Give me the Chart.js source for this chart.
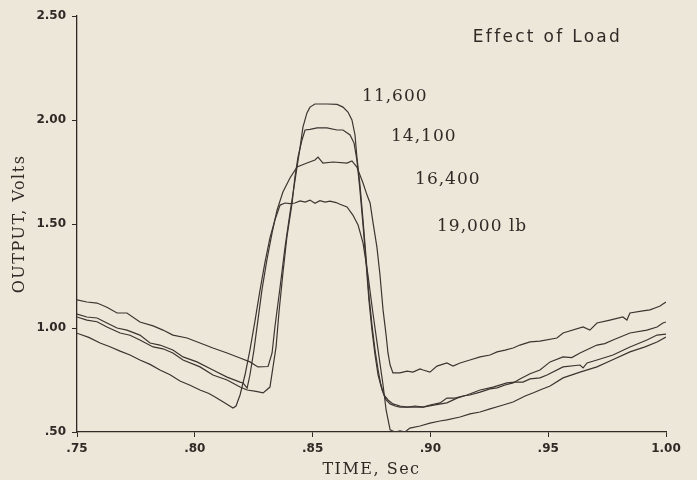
<!DOCTYPE html>
<html>
<head>
<meta charset="utf-8">
<title>Effect of Load</title>
<script src="https://cdn.jsdelivr.net/npm/chart.js@4.4.0/dist/chart.umd.min.js"></script>
<style>
    html, body { margin: 0; padding: 0; background: #ece7d9; }
    #wrap { width: 697px; height: 480px; }
</style>
</head>
<body>
<div id="wrap"><canvas id="loadChart" width="697" height="480"></canvas></div>
<script>
// output trace for each wheel load: time (s) and volts
const t11600 = [.7500, .7542, .7585, .7627, .7670, .7712, .7767, .7823, .7865, .7907, .7967, .8022, .8077, .8137, .8192, .8234, .8268, .8311, .8328, .8340, .8362, .8383, .8404, .8421, .8434, .8447, .8459, .8476, .8489, .8510, .8561, .8604, .8629, .8650, .8667, .8680, .8688, .8701, .8714, .8727, .8739, .8752, .8765, .8778, .8790, .8803, .8820, .8841, .8871, .8901, .8935, .8969, .8998, .9041, .9070, .9104, .9138, .9168, .9211, .9253, .9283, .9317, .9351, .9380, .9423, .9465, .9508, .9563, .9600, .9635, .9707, .9740, .9775, .9847, .9919, .9962, .9987, 1.0000];
const v11600 = [1.135, 1.125, 1.120, 1.100, 1.072, 1.072, 1.029, 1.010, .990, .966, .952, .928, .904, .880, .856, .837, .813, .815, .880, 1.005, 1.197, 1.389, 1.553, 1.678, 1.774, 1.870, 1.966, 2.034, 2.062, 2.077, 2.077, 2.075, 2.062, 2.038, 2.000, 1.928, 1.822, 1.688, 1.519, 1.337, 1.159, 1.014, .894, .798, .726, .678, .654, .635, .625, .620, .625, .620, .630, .640, .663, .663, .673, .678, .692, .707, .712, .726, .736, .755, .780, .798, .837, .861, .858, .880, .918, .925, .942, .976, .990, 1.005, 1.024, 1.029];

const t14100 = [.7500, .7542, .7585, .7627, .7683, .7725, .7767, .7823, .7865, .7907, .7950, .8022, .8077, .8137, .8192, .8222, .8260, .8290, .8319, .8332, .8345, .8357, .8374, .8391, .8413, .8425, .8438, .8455, .8468, .8489, .8519, .8561, .8604, .8629, .8659, .8676, .8688, .8701, .8714, .8727, .8739, .8752, .8765, .8778, .8795, .8812, .8829, .8850, .8871, .8913, .8969, .9020, .9070, .9113, .9155, .9211, .9266, .9325, .9359, .9393, .9423, .9465, .9495, .9563, .9635, .9648, .9665, .9707, .9775, .9847, .9919, .9962, 1.0000];
const v14100 = [1.053, 1.038, 1.030, 1.005, .976, .965, .942, .909, .900, .880, .846, .813, .774, .750, .716, .702, .695, .688, .716, .813, .909, 1.072, 1.264, 1.438, 1.601, 1.726, 1.822, 1.904, 1.952, 1.955, 1.962, 1.962, 1.952, 1.952, 1.928, 1.889, 1.808, 1.663, 1.495, 1.313, 1.135, .990, .870, .774, .702, .654, .635, .625, .620, .620, .620, .630, .640, .663, .678, .702, .716, .736, .740, .740, .755, .760, .774, .813, .822, .808, .832, .846, .870, .909, .942, .966, .971];

const t16400 = [.7500, .7542, .7585, .7627, .7670, .7712, .7767, .7810, .7852, .7907, .7950, .8009, .8077, .8137, .8192, .8205, .8222, .8234, .8251, .8268, .8285, .8306, .8328, .8349, .8374, .8404, .8434, .8476, .8510, .8523, .8544, .8587, .8646, .8667, .8688, .8714, .8731, .8744, .8756, .8773, .8786, .8799, .8812, .8820, .8829, .8841, .8871, .8901, .8926, .8956, .8969, .8998, .9028, .9070, .9096, .9126, .9168, .9211, .9253, .9283, .9317, .9351, .9380, .9423, .9465, .9537, .9563, .9648, .9677, .9707, .9762, .9817, .9834, .9847, .9902, .9932, .9953, .9975, .9987, 1.0000];
const v16400 = [1.067, 1.053, 1.048, 1.024, 1.000, .990, .966, .928, .918, .894, .861, .837, .798, .764, .740, .736, .711, .774, .894, 1.038, 1.183, 1.327, 1.457, 1.567, 1.654, 1.721, 1.774, 1.793, 1.808, 1.822, 1.793, 1.798, 1.793, 1.803, 1.774, 1.697, 1.639, 1.601, 1.510, 1.389, 1.255, 1.087, .966, .880, .822, .784, .784, .793, .788, .803, .798, .788, .817, .832, .817, .832, .846, .861, .870, .885, .894, .904, .918, .933, .937, .952, .976, 1.005, .990, 1.024, 1.038, 1.053, 1.038, 1.072, 1.082, 1.087, 1.096, 1.106, 1.115, 1.125];

const t19000 = [.7500, .7550, .7598, .7640, .7683, .7725, .7767, .7810, .7852, .7895, .7937, .7980, .8022, .8060, .8086, .8128, .8162, .8175, .8192, .8213, .8234, .8256, .8277, .8298, .8319, .8340, .8362, .8383, .8404, .8425, .8447, .8468, .8489, .8510, .8531, .8553, .8574, .8600, .8616, .8646, .8671, .8693, .8714, .8735, .8756, .8778, .8799, .8812, .8829, .8850, .8871, .8892, .8913, .8956, .8998, .9041, .9070, .9126, .9168, .9211, .9253, .9295, .9351, .9402, .9440, .9465, .9508, .9563, .9635, .9707, .9762, .9847, .9911, .9962, 1.0000];
const v19000 = [.975, .955, .928, .910, .889, .870, .846, .825, .798, .775, .745, .725, .702, .685, .668, .639, .615, .625, .678, .774, .894, 1.038, 1.183, 1.317, 1.433, 1.519, 1.591, 1.601, 1.598, 1.601, 1.611, 1.605, 1.615, 1.600, 1.612, 1.605, 1.610, 1.603, 1.595, 1.582, 1.543, 1.495, 1.409, 1.255, 1.072, .894, .726, .606, .510, .500, .505, .500, .519, .529, .543, .553, .558, .572, .587, .596, .611, .625, .644, .673, .690, .702, .721, .760, .788, .813, .841, .885, .909, .933, .957];

const loadLabels = ['11,600', '14,100', '16,400', '19,000 lb'];
const xTicks = [0.75, 0.80, 0.85, 0.90, 0.95, 1.00];
const xTickLabels = ['.75', '.80', '.85', '.90', '.95', '1.00'];
const yTicks = [0.5, 1.0, 1.5, 2.0, 2.5];
const yTickLabels = ['.50', '1.00', '1.50', '2.00', '2.50'];

const ink = '#2f2a26';
const traceColor = '#3b3531';

function toPoints(t, v) {
    return t.map((x, i) => ({ x: x, y: v[i] }));
}

function trace(t, v) {
    return {
        data: toPoints(t, v),
        borderColor: traceColor,
        borderWidth: 1.2,
        pointRadius: 0,
        fill: false,
        tension: 0
    };
}

// titles and curve labels drawn straight on the canvas
const paperText = {
    id: 'paperText',
    afterDraw(chart) {
        const ctx = chart.ctx;
        const xs = chart.scales.x;
        const ys = chart.scales.y;
        const area = chart.chartArea;
        ctx.save();
        ctx.fillStyle = ink;
        ctx.textBaseline = 'middle';
        ctx.textAlign = 'left';

        ctx.font = '17px "DejaVu Sans"';
        ctx.letterSpacing = '2.3px';
        ctx.fillText('Effect of Load', xs.getPixelForValue(0.918), ys.getPixelForValue(2.394));

        const spots = [[0.871, 2.115], [0.8833, 1.918], [0.8935, 1.712], [0.9028, 1.49]];
        ctx.font = '17px "DejaVu Serif"';
        ctx.letterSpacing = '1px';
        loadLabels.forEach((txt, i) => {
            ctx.fillText(txt, xs.getPixelForValue(spots[i][0]), ys.getPixelForValue(spots[i][1]));
        });

        ctx.font = '16px "DejaVu Serif"';
        ctx.letterSpacing = '1.5px';
        ctx.textAlign = 'center';
        ctx.fillText('TIME, Sec', (area.left + area.right) / 2, 470);

        ctx.translate(20, (area.top + area.bottom) / 2);
        ctx.rotate(-Math.PI / 2);
        ctx.fillText('OUTPUT, Volts', 0, 0);
        ctx.restore();
    }
};

const tickFont = { family: 'DejaVu Sans', size: 12, weight: 'bold' };

new Chart(document.getElementById('loadChart').getContext('2d'), {
    type: 'line',
    data: {
        datasets: [
            trace(t11600, v11600),
            trace(t14100, v14100),
            trace(t16400, v16400),
            trace(t19000, v19000)
        ]
    },
    options: {
        responsive: false,
        animation: false,
        devicePixelRatio: 1,
        layout: { padding: { top: 16, right: 31, bottom: 0, left: 0 } },
        plugins: { legend: { display: false }, tooltip: { enabled: false } },
        scales: {
            x: {
                type: 'linear',
                min: 0.75,
                max: 1.0,
                afterBuildTicks: s => { s.ticks = xTicks.map(v => ({ value: v })); },
                afterFit: s => { s.height = 48; s.paddingLeft = 0; s.paddingRight = 0; },
                ticks: {
                    font: tickFont,
                    color: ink,
                    padding: 5,
                    maxRotation: 0,
                    autoSkip: false,
                    callback: (v, i) => xTickLabels[i]
                },
                grid: { drawOnChartArea: false, drawTicks: true, tickLength: 5, color: ink, lineWidth: 1 },
                border: { display: true, color: ink, width: 1.3 }
            },
            y: {
                type: 'linear',
                min: 0.5,
                max: 2.5,
                afterBuildTicks: s => { s.ticks = yTicks.map(v => ({ value: v })); },
                afterFit: s => { s.width = 77; s.paddingTop = 0; s.paddingBottom = 0; },
                ticks: {
                    font: tickFont,
                    color: ink,
                    padding: 6,
                    autoSkip: false,
                    callback: (v, i) => yTickLabels[i]
                },
                grid: { drawOnChartArea: false, drawTicks: true, tickLength: 5, color: ink, lineWidth: 1 },
                border: { display: true, color: ink, width: 1.3 }
            }
        }
    },
    plugins: [paperText]
});
</script>
</body>
</html>
